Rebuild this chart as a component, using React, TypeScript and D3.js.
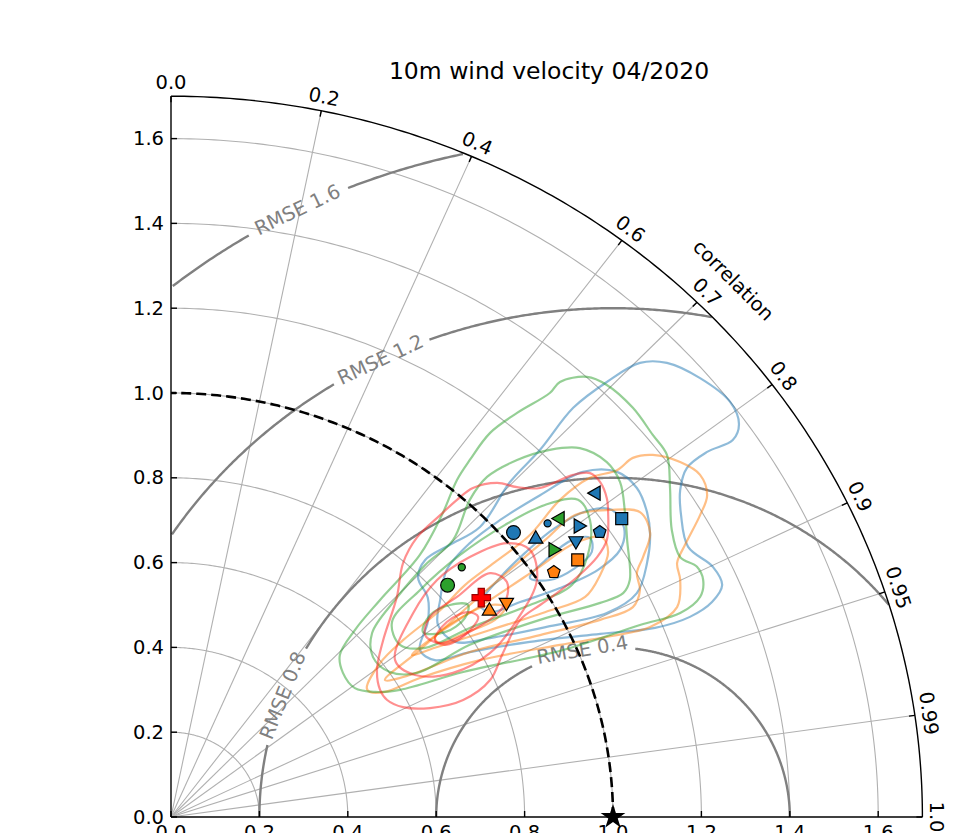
import React, { useRef, useEffect } from 'react';
import * as d3 from 'd3';

const title = '10m wind velocity 04/2020';
const maxStd = 1.7;
const refStd = 1.0;
const stdTicks = [0.0, 0.2, 0.4, 0.6, 0.8, 1.0, 1.2, 1.4, 1.6];
const corrTicks = [0.0, 0.2, 0.4, 0.6, 0.7, 0.8, 0.9, 0.95, 0.99, 1.0];
const corrTickLabels = ['0.0', '0.2', '0.4', '0.6', '0.7', '0.8', '0.9', '0.95', '0.99', '1.0'];
const rmseLevels = [0.4, 0.8, 1.2, 1.6];
// where each RMSE label sits, degrees around the reference point
const rmseLabelAngle = [100, 159, 116, 116.5];

// models: std, correlation, colour, marker
const modelStd = [1.025, 1.098, 1.127, 1.228, 1.239, 1.149, 1.18, 1.054, 1.124, 1.07, 1.102, 1.041, 0.831, 0.883, 0.872, 0.912, 0.869];
const modelCorr = [0.756, 0.776, 0.781, 0.783, 0.823, 0.802, 0.822, 0.783, 0.815, 0.808, 0.835, 0.832, 0.753, 0.745, 0.805, 0.832, 0.829];
const modelColor = ['#1f77b4', '#1f77b4', '#2ca02c', '#1f77b4', '#1f77b4', '#1f77b4', '#1f77b4', '#1f77b4', '#1f77b4', '#2ca02c', '#ff7f0e', '#ff7f0e', '#2ca02c', '#2ca02c', 'red', '#ff7f0e', '#ff7f0e'];
const modelShape = ['o', 'small', '<', '<', 's', '>', 'p', '^', 'v', '>', 's', 'p', 'o', 'small', 'P', 'v', '^'];

// density contours (std_x, std_y), outer to inner
const blueContours = [
  [[0.563, 0.394], [0.581, 0.46], [0.581, 0.517], [0.559, 0.564], [0.575, 0.606], [0.631, 0.642], [0.699, 0.684], [0.767, 0.79], [0.835, 0.866], [0.91, 0.965], [0.986, 1.026], [1.061, 1.071], [1.122, 1.071], [1.197, 1.035], [1.265, 0.979], [1.285, 0.927], [1.271, 0.889], [1.213, 0.861], [1.167, 0.823], [1.152, 0.771], [1.154, 0.712], [1.17, 0.637], [1.226, 0.59], [1.247, 0.547], [1.224, 0.507], [1.174, 0.472], [1.095, 0.446], [0.971, 0.432], [0.812, 0.413], [0.676, 0.389], [0.597, 0.37]],
  [[0.609, 0.512], [0.624, 0.583], [0.676, 0.646], [0.744, 0.7], [0.835, 0.759], [0.932, 0.814], [1.009, 0.814], [1.054, 0.776], [1.077, 0.719], [1.084, 0.665], [1.077, 0.599], [1.054, 0.528], [0.986, 0.481], [0.857, 0.45], [0.722, 0.422], [0.643, 0.413], [0.604, 0.453]],
  [[0.699, 0.5], [0.744, 0.564], [0.801, 0.623], [0.869, 0.682], [0.948, 0.724], [0.998, 0.724], [1.025, 0.682], [1.016, 0.63], [0.966, 0.583], [0.88, 0.54], [0.79, 0.507], [0.722, 0.483]],
  [[0.812, 0.564], [0.853, 0.611], [0.907, 0.653], [0.948, 0.658], [0.952, 0.625], [0.914, 0.587], [0.857, 0.559]],
];
const orangeContours = [
  [[0.443, 0.304], [0.473, 0.363], [0.525, 0.417], [0.609, 0.488], [0.665, 0.547], [0.733, 0.601], [0.812, 0.665], [0.88, 0.748], [0.948, 0.8], [1.009, 0.818], [1.045, 0.847], [1.09, 0.854], [1.152, 0.837], [1.197, 0.807], [1.213, 0.759], [1.197, 0.712], [1.163, 0.642], [1.145, 0.599], [1.152, 0.559], [1.145, 0.495], [1.084, 0.448], [0.986, 0.425], [0.88, 0.406], [0.699, 0.37], [0.563, 0.328], [0.484, 0.295], [0.45, 0.295]],
  [[0.484, 0.323], [0.563, 0.394], [0.676, 0.5], [0.767, 0.583], [0.846, 0.653], [0.914, 0.712], [0.993, 0.724], [1.061, 0.719], [1.084, 0.67], [1.068, 0.613], [1.054, 0.575], [1.061, 0.535], [1.045, 0.495], [0.971, 0.465], [0.835, 0.429], [0.676, 0.389], [0.541, 0.335]],
  [[0.545, 0.382], [0.609, 0.436], [0.722, 0.512], [0.824, 0.583], [0.914, 0.646], [0.975, 0.66], [0.989, 0.625], [0.971, 0.571], [0.937, 0.519], [0.846, 0.483], [0.722, 0.441], [0.597, 0.399]],
  [[0.597, 0.422], [0.654, 0.469], [0.722, 0.5], [0.756, 0.495], [0.733, 0.465], [0.665, 0.434], [0.609, 0.41]],
];
const greenContours = [
  [[0.88, 1.026], [0.941, 1.038], [0.986, 1.019], [1.045, 0.965], [1.09, 0.901], [1.122, 0.854], [1.129, 0.776], [1.133, 0.677], [1.152, 0.613], [1.19, 0.59], [1.204, 0.559], [1.197, 0.519], [1.152, 0.481], [1.061, 0.453], [0.887, 0.394], [0.661, 0.342], [0.518, 0.3], [0.462, 0.295], [0.416, 0.304], [0.389, 0.34], [0.382, 0.382], [0.416, 0.441], [0.473, 0.512], [0.563, 0.618], [0.615, 0.717], [0.647, 0.795], [0.676, 0.842], [0.722, 0.906], [0.783, 0.953], [0.857, 1.0]],
  [[0.638, 0.653], [0.676, 0.748], [0.715, 0.802], [0.783, 0.842], [0.857, 0.866], [0.925, 0.87], [0.986, 0.837], [1.016, 0.79], [1.027, 0.719], [1.032, 0.653], [1.038, 0.559], [1.023, 0.528], [0.971, 0.505], [0.835, 0.465], [0.676, 0.406], [0.557, 0.34], [0.495, 0.342], [0.457, 0.377], [0.455, 0.434], [0.507, 0.512], [0.575, 0.594]],
  [[0.5, 0.46], [0.563, 0.535], [0.654, 0.618], [0.756, 0.689], [0.846, 0.736], [0.921, 0.748], [0.948, 0.7], [0.943, 0.618], [0.907, 0.547], [0.812, 0.5], [0.676, 0.446], [0.575, 0.399], [0.518, 0.406]],
  [[0.57, 0.436], [0.586, 0.476], [0.631, 0.5], [0.672, 0.5], [0.665, 0.469], [0.62, 0.436]],
];
const redContours = [
  [[0.473, 0.3], [0.489, 0.276], [0.525, 0.259], [0.586, 0.257], [0.661, 0.276], [0.722, 0.323], [0.751, 0.387], [0.79, 0.465], [0.835, 0.5], [0.873, 0.528], [0.919, 0.566], [0.964, 0.613], [0.986, 0.653], [0.989, 0.717], [0.986, 0.752], [0.971, 0.79], [0.948, 0.811], [0.91, 0.807], [0.835, 0.776], [0.783, 0.778], [0.738, 0.788], [0.683, 0.776], [0.647, 0.748], [0.609, 0.712], [0.557, 0.66], [0.525, 0.599], [0.511, 0.519], [0.48, 0.417], [0.466, 0.347]],
  [[0.507, 0.37], [0.548, 0.481], [0.602, 0.559], [0.676, 0.613], [0.76, 0.646], [0.812, 0.63], [0.828, 0.559], [0.783, 0.465], [0.722, 0.387], [0.638, 0.34], [0.552, 0.335]],
  [[0.722, 0.575], [0.76, 0.554], [0.751, 0.495], [0.683, 0.441], [0.609, 0.41], [0.575, 0.429], [0.586, 0.472], [0.647, 0.519]],
  [[0.597, 0.417], [0.624, 0.46], [0.672, 0.483], [0.695, 0.472], [0.665, 0.429], [0.62, 0.406]],
];
const contourSets = [
  { color: '#1f77b4', rings: blueContours },
  { color: '#ff7f0e', rings: orangeContours },
  { color: '#2ca02c', rings: greenContours },
  { color: '#ff2020', rings: redContours },
];

const pentagon = {
  draw(ctx, size) {
    const r = Math.sqrt(size);
    for (let i = 0; i < 5; i++) {
      const a = -Math.PI / 2 + (i * 2 * Math.PI) / 5;
      if (i === 0) ctx.moveTo(r * Math.cos(a), r * Math.sin(a));
      else ctx.lineTo(r * Math.cos(a), r * Math.sin(a));
    }
    ctx.closePath();
  },
};
const plusFilled = {
  draw(ctx, size) {
    const s = Math.sqrt(size);
    const t = s / 3;
    const pts = [[-t, -s], [t, -s], [t, -t], [s, -t], [s, t], [t, t], [t, s], [-t, s], [-t, t], [-s, t], [-s, -t], [-t, -t]];
    pts.forEach((p, i) => (i === 0 ? ctx.moveTo(p[0], p[1]) : ctx.lineTo(p[0], p[1])));
    ctx.closePath();
  },
};

const TaylorDiagram = () => {
  const ref = useRef(null);

  useEffect(() => {
    const svg = d3.select(ref.current);
    svg.selectAll('*').remove();

    const x = d3.scaleLinear().domain([0, maxStd]).range([171, 171 + maxStd * 442]);
    const y = d3.scaleLinear().domain([0, maxStd]).range([817, 817 - maxStd * 424]);
    const polar = (r, th) => [x(r * Math.cos(th)), y(r * Math.sin(th))];
    const font = 'DejaVu Sans, sans-serif';
    const line = d3.line();
    const quarter = d3.range(0, 90.01, 0.5).map((d) => (d * Math.PI) / 180);

    svg.append('rect').attr('width', 963).attr('height', 833).attr('fill', '#fff');

    // grid: std arcs and correlation rays
    const grid = svg.append('g').attr('fill', 'none').attr('stroke', '#b0b0b0').attr('stroke-width', 1.1);
    stdTicks.filter((s) => s > 0).forEach((s) => {
      grid.append('path').attr('d', line(quarter.map((th) => polar(s, th))));
    });
    corrTicks.filter((c) => c > 0 && c < 1).forEach((c) => {
      const th = Math.acos(c);
      grid.append('path').attr('d', line([polar(0, th), polar(maxStd, th)]));
    });

    // RMSE circles around the reference
    const rm = svg.append('g');
    rmseLevels.forEach((lvl, i) => {
      const center = rmseLabelAngle[i];
      const half = ((52 / (lvl * 433)) * 180) / Math.PI;
      const pts = d3.range(0, 180.01, 0.25).map((a) => {
        const rad = (a * Math.PI) / 180;
        return { a, sx: refStd + lvl * Math.cos(rad), sy: lvl * Math.sin(rad) };
      });
      const arc = d3
        .line()
        .defined((p) => p.sx >= 0 && Math.hypot(p.sx, p.sy) <= maxStd && Math.abs(p.a - center) > half)
        .x((p) => x(p.sx))
        .y((p) => y(p.sy));
      rm.append('path').attr('d', arc(pts)).attr('fill', 'none').attr('stroke', '#808080').attr('stroke-width', 2.4);

      const rad = (center * Math.PI) / 180;
      const lx = x(refStd + lvl * Math.cos(rad));
      const ly = y(lvl * Math.sin(rad));
      let ang = (Math.atan2(-Math.cos(rad) * 424, -Math.sin(rad) * 442) * 180) / Math.PI;
      if (ang > 90) ang -= 180;
      if (ang < -90) ang += 180;
      rm.append('text')
        .attr('transform', `translate(${lx},${ly}) rotate(${ang})`)
        .attr('text-anchor', 'middle')
        .attr('dominant-baseline', 'central')
        .attr('font-family', font)
        .attr('font-size', 19.5)
        .attr('fill', '#808080')
        .text(`RMSE ${lvl}`);
    });

    // density contours
    const smooth = d3.line().curve(d3.curveCatmullRomClosed.alpha(0.5));
    contourSets.forEach((set) => {
      set.rings.forEach((ring) => {
        svg.append('path')
          .attr('d', smooth(ring.map((p) => [x(p[0]), y(p[1])])))
          .attr('fill', 'none')
          .attr('stroke', set.color)
          .attr('stroke-opacity', 0.5)
          .attr('stroke-width', 2.2);
      });
    });

    // reference std arc
    svg.append('path')
      .attr('d', line(quarter.map((th) => polar(refStd, th))))
      .attr('fill', 'none')
      .attr('stroke', '#000')
      .attr('stroke-width', 2.6)
      .attr('stroke-dasharray', '10,5');

    // frame
    const frame = svg.append('g').attr('fill', 'none').attr('stroke', '#000').attr('stroke-width', 1.4);
    frame.append('path').attr('d', line(quarter.map((th) => polar(maxStd, th))));
    frame.append('path').attr('d', line([polar(0, 0), polar(maxStd, 0)]));
    frame.append('path').attr('d', line([polar(0, 0), polar(maxStd, Math.PI / 2)]));

    // std ticks + labels
    stdTicks.forEach((s) => {
      frame.append('path').attr('d', line([[x(s), y(0)], [x(s), y(0) - 6]]));
      frame.append('path').attr('d', line([[x(0), y(s)], [x(0) + 6, y(s)]]));
      svg.append('text')
        .attr('x', x(s)).attr('y', y(0) + 8)
        .attr('text-anchor', 'middle').attr('dominant-baseline', 'hanging')
        .attr('font-family', font).attr('font-size', 19.5)
        .text(s.toFixed(1));
      svg.append('text')
        .attr('x', x(0) - 7).attr('y', y(s))
        .attr('text-anchor', 'end').attr('dominant-baseline', 'central')
        .attr('font-family', font).attr('font-size', 19.5)
        .text(s.toFixed(1));
    });

    // correlation ticks + labels
    corrTicks.forEach((c, i) => {
      const th = Math.acos(c);
      const [px, py] = polar(maxStd, th);
      const dx = Math.cos(th);
      const dy = -Math.sin(th);
      frame.append('path').attr('d', line([[px, py], [px - 6 * dx, py - 6 * dy]]));
      svg.append('text')
        .attr('transform', `translate(${px + 14 * dx},${py + 14 * dy}) rotate(${90 - (th * 180) / Math.PI})`)
        .attr('text-anchor', 'middle').attr('dominant-baseline', 'central')
        .attr('font-family', font).attr('font-size', 19.5)
        .text(corrTickLabels[i]);
    });
    const [cx, cy] = polar(maxStd, Math.PI / 4);
    svg.append('text')
      .attr('transform', `translate(${cx + 31},${cy - 27}) rotate(45)`)
      .attr('text-anchor', 'middle').attr('dominant-baseline', 'central')
      .attr('font-family', font).attr('font-size', 19.5)
      .text('correlation');

    // reference star
    svg.append('path')
      .attr('d', d3.symbol().type(d3.symbolStar).size(190)())
      .attr('transform', `translate(${x(refStd)},${y(0)})`)
      .attr('fill', '#000');

    // model markers
    modelStd.forEach((s, i) => {
      const [px, py] = polar(s, Math.acos(modelCorr[i]));
      const shape = modelShape[i];
      let type = d3.symbolCircle;
      let size = 150;
      let rot = 0;
      if (shape === 'small') size = 40;
      if (shape === 's') { type = d3.symbolSquare; size = 144; }
      if (shape === 'p') { type = pentagon; size = 44; }
      if (shape === 'P') { type = plusFilled; size = 85; }
      if (['^', 'v', '<', '>'].includes(shape)) {
        type = d3.symbolTriangle;
        size = 88;
        rot = { '^': 0, v: 180, '<': -90, '>': 90 }[shape];
      }
      svg.append('path')
        .attr('d', d3.symbol().type(type).size(size)())
        .attr('transform', `translate(${px},${py}) rotate(${rot})`)
        .attr('fill', modelColor[i])
        .attr('stroke', shape === 'P' ? '#900' : '#000')
        .attr('stroke-width', 1.2);
    });

    svg.append('text')
      .attr('x', 549).attr('y', 79)
      .attr('text-anchor', 'middle')
      .attr('font-family', font).attr('font-size', 23.5)
      .text(title);
  }, []);

  return <svg ref={ref} width={963} height={833} style={{ position: 'absolute', left: 0, top: 0 }}></svg>;
};

export default function App() {
  return <TaylorDiagram />;
}
